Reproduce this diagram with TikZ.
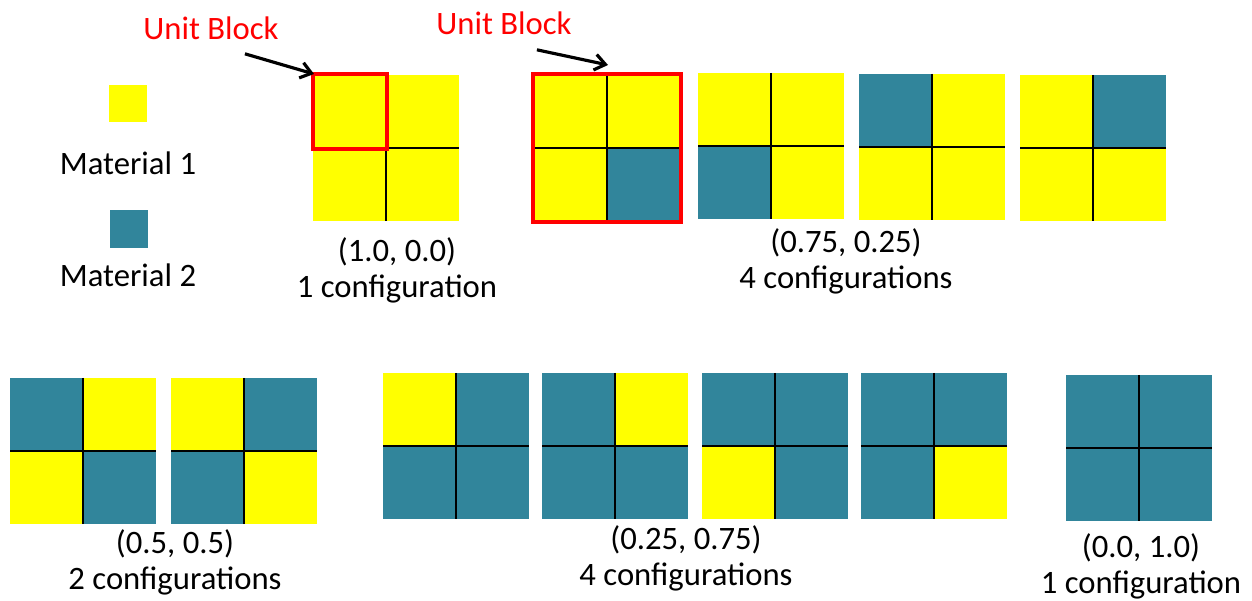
\documentclass[tikz,border=0pt]{standalone}
\usepackage{fontspec}
\setmainfont{Carlito}
\usepackage{xcolor}
\definecolor{mat-yellow}{RGB}{255,255,0}
\definecolor{mat-teal}{RGB}{49,133,155}
\definecolor{unit-red}{RGB}{255,0,0}
\usetikzlibrary{arrows.meta}

% 2x2 arrangement of unit blocks: left, top, then colours TL, TR, BL, BR
\newcommand{\quadblock}[6]{%
  \begin{scope}[shift={(#1,#2)}]
    \fill[#3] (0,0) rectangle (73,73);
    \fill[#4] (73,0) rectangle (146,73);
    \fill[#5] (0,73) rectangle (73,146);
    \fill[#6] (73,73) rectangle (146,146);
    \draw[cell divider] (73,0) -- (73,146) (0,73) -- (146,73);
  \end{scope}}

\begin{document}
\begin{tikzpicture}[
    x=0.02cm, y=-0.02cm,
    cell divider/.style={line width=0.9pt, black},
    unit frame/.style={draw=unit-red, line width=2.2pt},
    caption text/.style={font=\fontsize{18.6}{20.6}\selectfont, inner sep=0pt, align=center},
    red label/.style={caption text, text=unit-red},
    pointer/.style={-{Straight Barb[length=6pt,width=9pt]}, line width=1.8pt, black}
]
\useasboundingbox (0,0) rectangle (1252,601);

% Legend
\fill[mat-yellow] (109,85) rectangle (147,122);
\node[caption text] (mat1) at (128,163) {Material 1};
\fill[mat-teal] (110,210) rectangle (148,248);
\node[caption text] (mat2) at (128,275) {Material 2};

% (1.0, 0.0) - single unit block marked
\quadblock{313}{75}{mat-yellow}{mat-yellow}{mat-yellow}{mat-yellow}
\draw[unit frame] (313,74) rectangle (387,149);
\coordinate (frame1) at (314,74);
\node[red label] (unit1) at (211,28) {Unit Block};
\draw[pointer] ([shift={(-34,14)}]unit1.south east) -- (frame1);
\node[caption text] (cap1) at (397,270) {(1.0, 0.0)\\1 configuration};

% (0.75, 0.25) - whole block marked
\foreach \bx/\by/\tl/\tr/\bl/\br in {
    534/75/mat-yellow/mat-yellow/mat-yellow/mat-teal,
    698/73/mat-yellow/mat-yellow/mat-teal/mat-yellow,
    859/74/mat-teal/mat-yellow/mat-yellow/mat-yellow,
    1020/75/mat-yellow/mat-teal/mat-yellow/mat-yellow}
  \quadblock{\bx}{\by}{\tl}{\tr}{\bl}{\br};
\draw[unit frame] (533,74) rectangle (681,222);
\coordinate (frame2) at (608,65);
\node[red label] (unit2) at (504,23) {Unit Block};
\draw[pointer] ([shift={(-35,15)}]unit2.south east) -- (frame2);
\node[caption text] (cap2) at (846,261) {(0.75, 0.25)\\4 configurations};

% (0.5, 0.5)
\foreach \bx/\by/\tl/\tr/\bl/\br in {
    10/378/mat-teal/mat-yellow/mat-yellow/mat-teal,
    171/378/mat-yellow/mat-teal/mat-teal/mat-yellow}
  \quadblock{\bx}{\by}{\tl}{\tr}{\bl}{\br};
\node[caption text] (cap3) at (175,562) {(0.5, 0.5)\\2 configurations};

% (0.25, 0.75)
\foreach \bx/\by/\tl/\tr/\bl/\br in {
    383/373/mat-yellow/mat-teal/mat-teal/mat-teal,
    542/373/mat-teal/mat-yellow/mat-teal/mat-teal,
    702/373/mat-teal/mat-teal/mat-yellow/mat-teal,
    861/373/mat-teal/mat-teal/mat-teal/mat-yellow}
  \quadblock{\bx}{\by}{\tl}{\tr}{\bl}{\br};
\node[caption text] (cap4) at (686,558) {(0.25, 0.75)\\4 configurations};

% (0.0, 1.0)
\quadblock{1066}{375}{mat-teal}{mat-teal}{mat-teal}{mat-teal}
\node[caption text] (cap5) at (1141,566) {(0.0, 1.0)\\1 configuration};

\end{tikzpicture}
\end{document}
